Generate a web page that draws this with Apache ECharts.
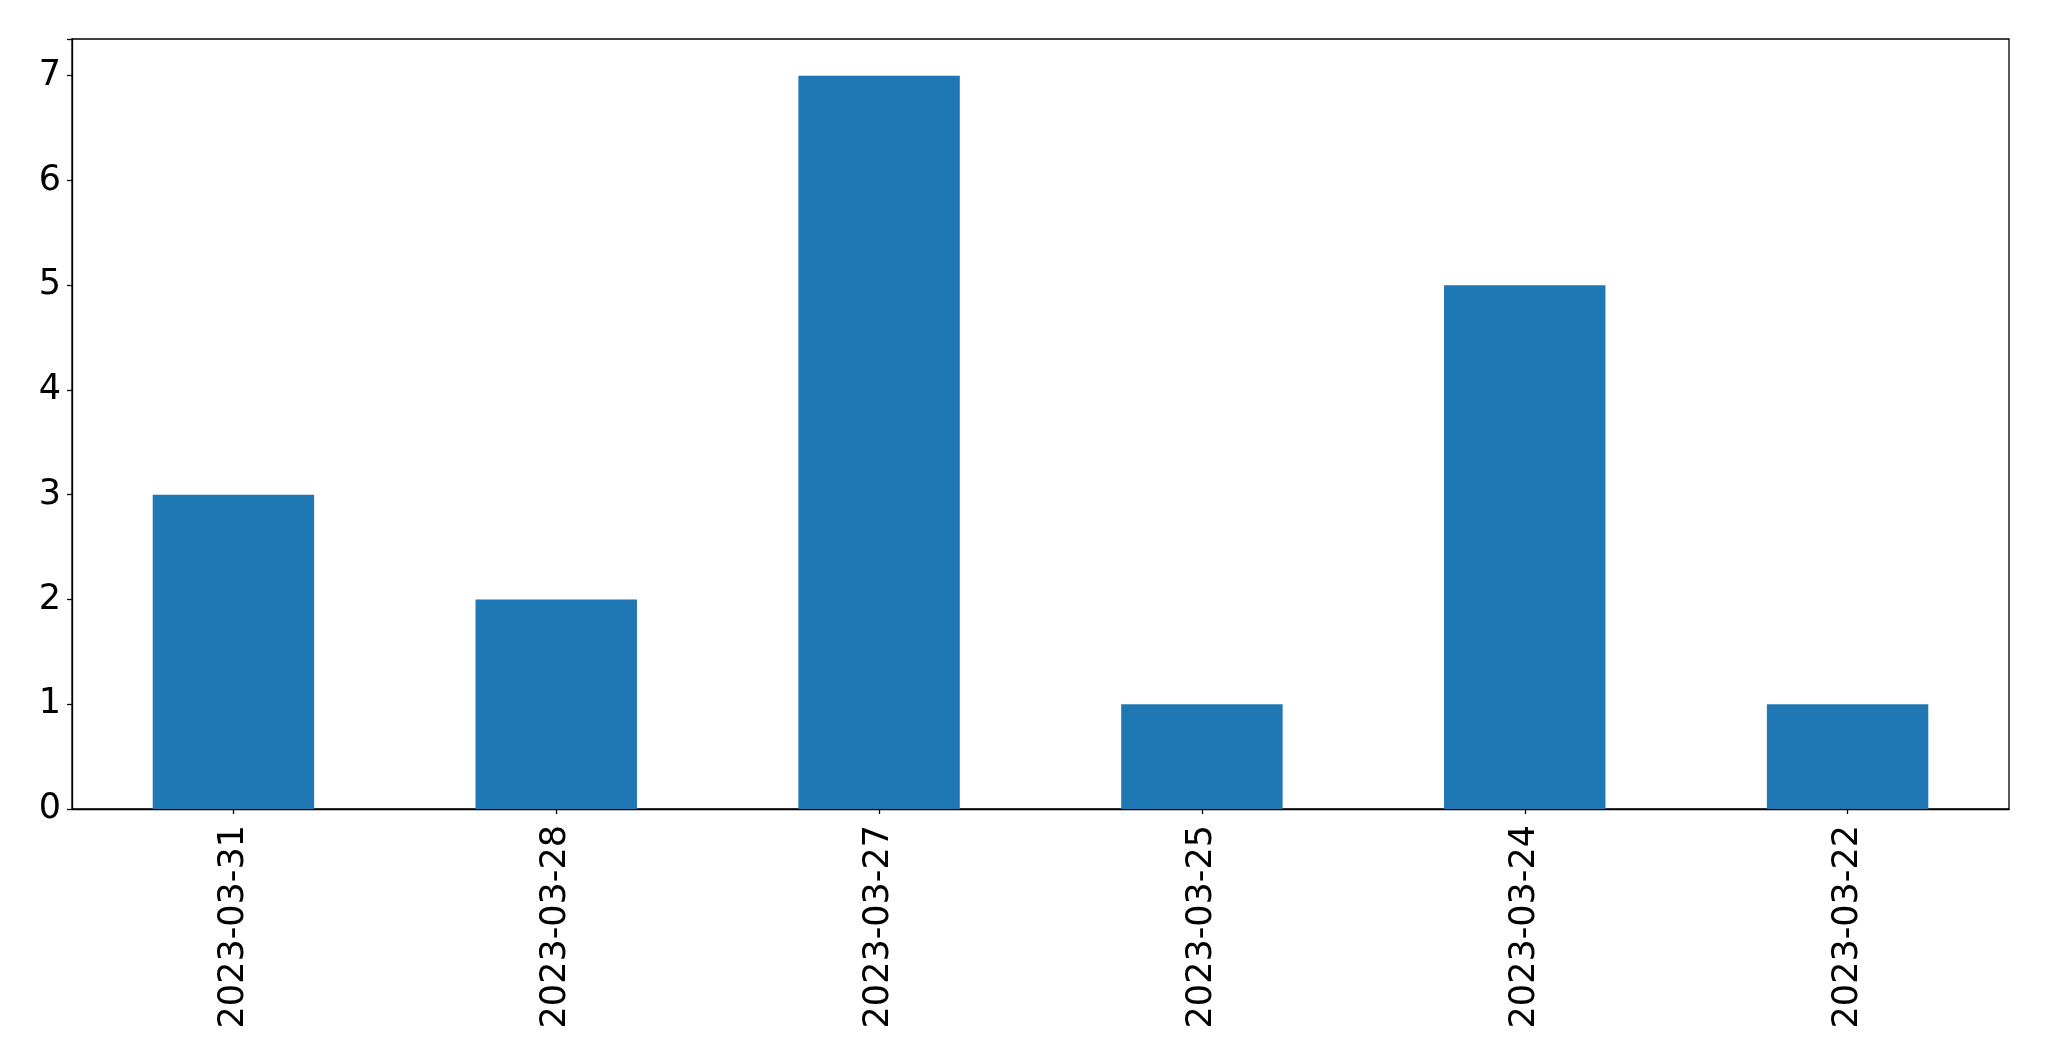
<!DOCTYPE html>
<html>
<head>
<meta charset="utf-8">
<script src="https://cdn.jsdelivr.net/npm/echarts@6/dist/echarts.min.js"></script>
<style>
html,body{margin:0;padding:0;background:#fff;}
#chart{width:2049px;height:1061px;}
</style>
</head>
<body>
<div id="chart"></div>
<script>
const categories = ["2023-03-31","2023-03-28","2023-03-27","2023-03-25","2023-03-24","2023-03-22"];
const values = [3, 2, 7, 1, 5, 1];
const yTicks = [0,1,2,3,4,5,6,7];

const chart = echarts.init(document.getElementById('chart'), null, {renderer:'canvas'});
const font = 'DejaVu Sans';
chart.setOption({
  animation: false,
  grid: {left: 72, top: 39, width: 1937, height: 770, show: true, borderColor: '#000', borderWidth: 1.3, backgroundColor: 'transparent'},
  xAxis: {
    type: 'category',
    data: categories,
    axisLine: {show: true, lineStyle: {color: '#000', width: 1.3}},
    axisTick: {show: true, alignWithLabel: true, length: 5, lineStyle: {color: '#000', width: 1.3}},
    axisLabel: {rotate: 90, margin: 16, fontSize: 35, fontFamily: font, color: '#000'},
    splitLine: {show: false}
  },
  yAxis: {
    type: 'value',
    min: 0, max: 7.35, interval: 1,
    axisLine: {show: true, lineStyle: {color: '#000', width: 1.3}},
    axisTick: {show: true, length: 5, lineStyle: {color: '#000', width: 1.3}},
    axisLabel: {margin: 11, fontSize: 35, fontFamily: font, color: '#000',
      formatter: function(v){ return yTicks.indexOf(v) >= 0 ? String(v) : ''; }},
    splitLine: {show: false}
  },
  series: [{
    type: 'bar',
    data: values,
    barWidth: '50%',
    itemStyle: {color: '#1f77b4'}
  }]
});
</script>
</body>
</html>
